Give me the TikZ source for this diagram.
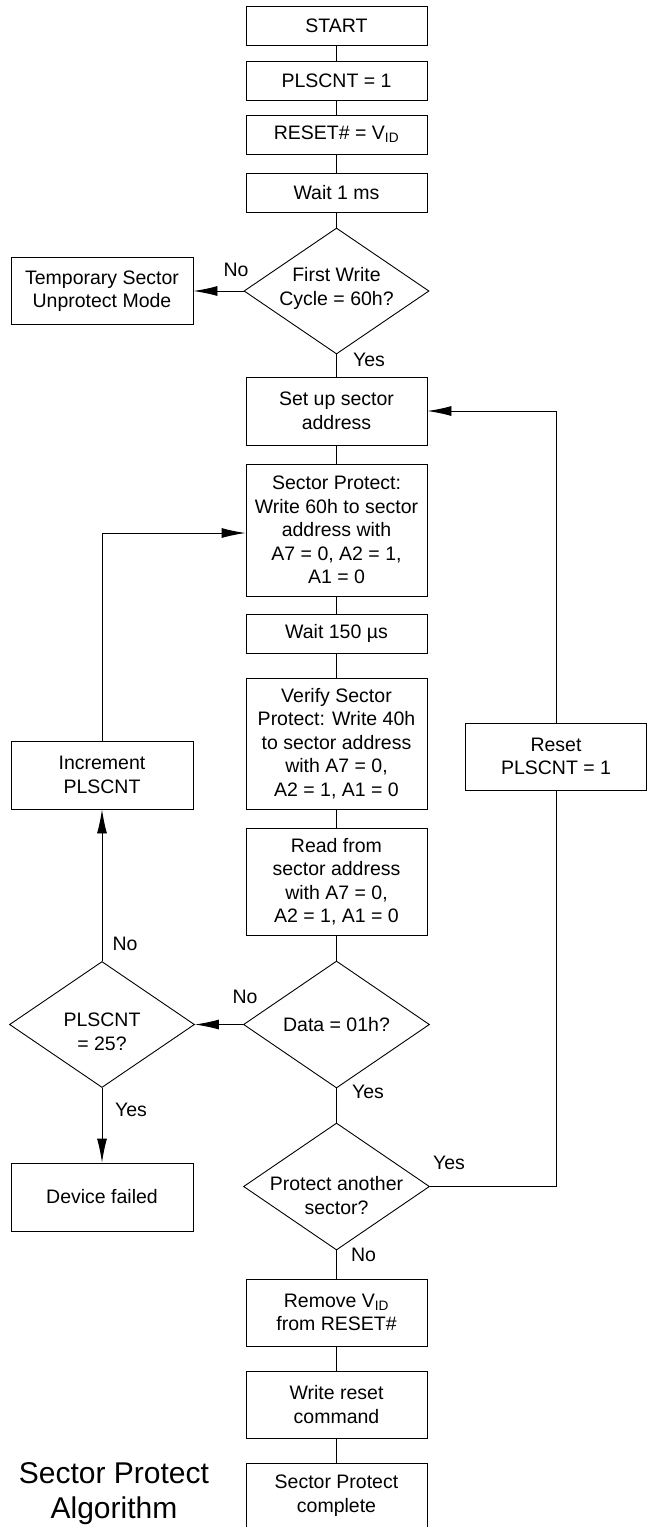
\documentclass[tikz,border=0pt]{standalone}
\usepackage{fontspec}
\setmainfont{Liberation Sans}
\usetikzlibrary{shapes.geometric,arrows.meta}
\begin{document}
\begin{tikzpicture}[x=1pt,y=-1pt,
  every node/.style={font=\fontsize{19.5}{23.5}\selectfont},
  box/.style={draw, line width=0.9pt, rectangle, minimum width=181pt, inner sep=0pt, align=center},
  dia/.style={draw, line width=0.9pt, shape=diamond, minimum width=185pt, minimum height=126pt, inner sep=0pt},
  txt/.style={align=center, inner sep=0pt},
  lbl/.style={inner sep=0pt},
  conn/.style={line width=0.9pt},
  arr/.style={line width=0.9pt, -{Latex[length=24pt,width=10pt]}},
]
\useasboundingbox (0,0) rectangle (648,1527);
% main column
\node[box,minimum height=39pt] (start) at (336.5,25.5) {START};
\node[box,minimum height=39pt] (pls1) at (336.5,80.5) {PLSCNT = 1};
\node[box,minimum height=39pt] (rst) at (336.5,134.5) {RESET\# = V\textsubscript{ID}};
\node[box,minimum height=39pt] (wait1) at (336.5,192.5) {Wait 1 ms};
\node[dia] (d1) at (336.5,291) {};
\node[txt] (d1t) at (336.5,288.5) {First Write\\Cycle = 60h?};
\node[box,minimum width=182pt,minimum height=67pt] (temp) at (102,291) {Temporary Sector\\Unprotect Mode};
\node[box,minimum height=68pt] (setup) at (336.5,411) {Set up sector\\address};
\node[box,minimum height=132pt] (sp) at (336.5,530) {Sector Protect:\\Write 60h to sector\\address with\\A7 = 0, A2 = 1,\\A1 = 0};
\node[box,minimum height=39pt] (wait2) at (336.5,633.5) {Wait 150 µs};
\node[box,minimum height=131pt] (verify) at (336.5,743.5) {Verify Sector\\Protect: Write 40h\\to sector address\\with A7 = 0,\\A2 = 1, A1 = 0};
\node[box,minimum height=107pt] (read) at (336.5,881.5) {Read from\\sector address\\with A7 = 0,\\A2 = 1, A1 = 0};
\node[dia,minimum width=186pt,minimum height=127pt] (d2) at (336.5,1024.5) {};
\node[txt] (d2t) at (336.5,1024.5) {Data = 01h?};
\node[dia] (d3) at (102,1024.5) {};
\node[txt] (d3t) at (102,1032) {PLSCNT\\= 25?};
\node[box,minimum width=182pt,minimum height=68pt] (inc) at (102,775) {Increment\\PLSCNT};
\node[box,minimum height=67pt] (rp) at (556,756.5) {Reset\\PLSCNT = 1};
\node[dia,minimum width=186pt,minimum height=127pt] (d4) at (336.5,1186.5) {};
\node[txt] (d4t) at (336.5,1195.5) {Protect another\\sector?};
\node[box,minimum width=182pt,minimum height=68pt] (fail) at (102,1197) {Device failed};
\node[box,minimum height=67pt] (rem) at (336.5,1312.5) {Remove V\textsubscript{ID}\\from RESET\#};
\node[box,minimum height=67pt] (wrst) at (336.5,1404.5) {Write reset\\command};
\node[box,minimum height=65pt] (done) at (336.5,1495.5) {Sector Protect\\complete};
\node[txt,font=\fontsize{30}{35}\selectfont] (title) at (114,1493.5) {Sector Protect\\Algorithm};
% labels
\node[lbl] (l1) at (236,270) {No};
\node[lbl] (l2) at (369,359.5) {Yes};
\node[lbl] (l3) at (125,944) {No};
\node[lbl] (l4) at (245,997) {No};
\node[lbl] (l5) at (131,1110) {Yes};
\node[lbl] (l6) at (368,1092) {Yes};
\node[lbl] (l7) at (449,1163) {Yes};
\node[lbl] (l8) at (363.5,1255) {No};
% connectors
\draw[conn] (start) -- (pls1);
\draw[conn] (pls1) -- (rst);
\draw[conn] (rst) -- (wait1);
\draw[conn] (wait1) -- (d1);
\draw[arr] (d1.west) -- (temp.east);
\draw[conn] (d1) -- (setup);
\draw[conn] (setup) -- (sp);
\draw[conn] (sp) -- (wait2);
\draw[conn] (wait2) -- (verify);
\draw[conn] (verify) -- (read);
\draw[conn] (read) -- (d2);
\draw[arr] (d2.west) -- (d3.east);
\draw[arr] (d3.north) -- (inc.south);
\draw[arr] (inc.north) |- ([yshift=-3pt]sp.west);
\draw[arr] (d3.south) -- (fail.north);
\draw[conn] (d2) -- (d4);
\draw[conn] (d4.east) -| (rp.south);
\draw[arr] (rp.north) |- (setup.east);
\draw[conn] (d4) -- (rem);
\draw[conn] (rem) -- (wrst);
\draw[conn] (wrst) -- (done);
\end{tikzpicture}
\end{document}
